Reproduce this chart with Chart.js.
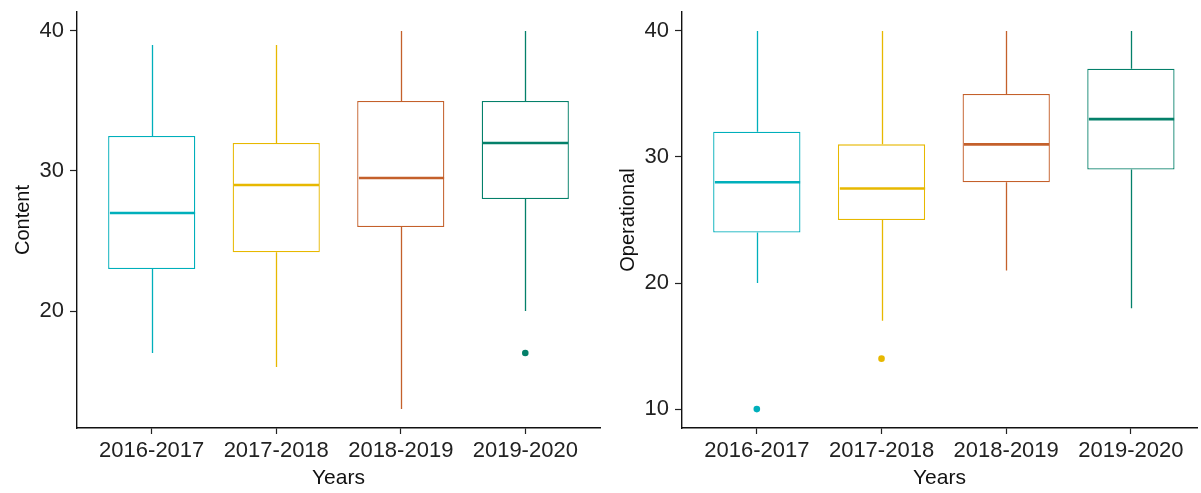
<!DOCTYPE html>
<html>
<head>
<meta charset="utf-8">
<script src="https://cdn.jsdelivr.net/npm/chart.js@4"></script>
<style>
  body { margin: 0; background: #fff; }
  #wrap { position: relative; width: 1201px; height: 493px; overflow: hidden; }
  .box { position: absolute; top: 0; height: 493px; }
</style>
</head>
<body>
<div id="wrap">
  <div class="box" style="left:0;width:604px"><canvas id="contentChart"></canvas></div>
  <div class="box" style="left:604px;width:597px"><canvas id="operationalChart"></canvas></div>
</div>
<script>
// categories
const years = ['2016-2017', '2017-2018', '2018-2019', '2019-2020'];

// Content scores
const contentMin = [17, 16, 13, 20];
const contentQ1 = [23, 24.2, 26, 28];
const contentMedian = [27, 29, 29.5, 32];
const contentQ3 = [32.5, 32, 35, 35];
const contentMax = [39, 39, 40, 40];
const contentOutlierYears = ['2019-2020'];
const contentOutlierValues = [17];
const contentTicks = [20, 30, 40];

// Operational scores
const operationalMin = [20, 17, 21, 18];
const operationalQ1 = [24, 25, 28, 29];
const operationalMedian = [28, 27.5, 31, 33];
const operationalQ3 = [32, 31, 35, 37];
const operationalMax = [40, 40, 40, 40];
const operationalOutlierYears = ['2016-2017', '2017-2018'];
const operationalOutlierValues = [10, 14];
const operationalTicks = [10, 20, 30, 40];

const colors = ['#00AFBB', '#E7B800', '#C4602B', '#04806A'];
const fontFamily = '"Liberation Sans", Arial, sans-serif';

function boxPlot(canvasId, stats, opts) {
    const xPos = years.map((y, i) => i + 1);

    // whiskers and medians, drawn from the chart's own scales
    const boxLines = {
        id: 'boxLines',
        afterDatasetsDraw(chart) {
            const ctx = chart.ctx;
            const x = chart.scales.x;
            const y = chart.scales.y;
            const half = (x.getPixelForValue(2) - x.getPixelForValue(1)) * 0.35;
            ctx.save();
            xPos.forEach((v, i) => {
                const px = Math.round(x.getPixelForValue(v)) + 0.5;
                ctx.strokeStyle = colors[i];
                ctx.lineWidth = 1.3;
                ctx.beginPath();
                ctx.moveTo(px, y.getPixelForValue(stats.q3[i]));
                ctx.lineTo(px, y.getPixelForValue(stats.max[i]));
                ctx.moveTo(px, y.getPixelForValue(stats.q1[i]));
                ctx.lineTo(px, y.getPixelForValue(stats.min[i]));
                ctx.stroke();
                ctx.lineWidth = 2.6;
                const my = y.getPixelForValue(stats.median[i]);
                ctx.beginPath();
                ctx.moveTo(px - half + 1, my);
                ctx.lineTo(px + half - 1, my);
                ctx.stroke();
            });
            ctx.restore();
        }
    };

    const ctx = document.getElementById(canvasId).getContext('2d');
    return new Chart(ctx, {
        type: 'bar',
        data: {
            datasets: [{
                type: 'bar',
                data: xPos.map((v, i) => ({ x: v, y: [stats.q1[i], stats.q3[i]] })),
                backgroundColor: '#ffffff',
                borderColor: colors,
                borderWidth: 1.3,
                borderSkipped: false,
                categoryPercentage: 1,
                barPercentage: 0.7
            }, {
                type: 'scatter',
                data: stats.outlierYears.map((yr, i) => ({ x: years.indexOf(yr) + 1, y: stats.outlierValues[i] })),
                pointRadius: 3.3,
                pointBorderWidth: 0,
                pointBackgroundColor: stats.outlierYears.map(yr => colors[years.indexOf(yr)]),
                pointBorderColor: stats.outlierYears.map(yr => colors[years.indexOf(yr)])
            }]
        },
        options: {
            responsive: true,
            maintainAspectRatio: false,
            animation: false,
            layout: { padding: { top: 12, right: opts.padRight, bottom: 0, left: 0 } },
            plugins: { legend: { display: false }, tooltip: { enabled: false } },
            scales: {
                x: {
                    type: 'linear',
                    min: 0.4,
                    max: opts.xMax,
                    offset: false,
                    afterBuildTicks: s => { s.ticks = xPos.map(v => ({ value: v })); },
                    afterFit: s => { s.height = 65; s.paddingLeft = 0; s.paddingRight = 0; },
                    grid: { offset: false, drawOnChartArea: false, drawTicks: true, tickLength: 6, tickColor: '#222', tickWidth: 1.2 },
                    border: { display: true, color: '#111', width: 1.4 },
                    ticks: {
                        padding: 4,
                        color: '#222',
                        font: { family: fontFamily, size: 22 },
                        maxRotation: 0,
                        autoSkip: false,
                        callback: v => years[v - 1]
                    },
                    title: {
                        display: true,
                        text: 'Years',
                        color: '#111',
                        font: { family: fontFamily, size: 21 },
                        padding: { top: 0, bottom: 2 }
                    }
                },
                y: {
                    min: opts.yMin,
                    max: opts.yMax,
                    afterBuildTicks: s => { s.ticks = opts.ticks.map(v => ({ value: v })); },
                    afterFit: s => { s.width = opts.axisWidth; s.paddingTop = 0; s.paddingBottom = 0; },
                    grid: { drawOnChartArea: false, drawTicks: true, tickLength: 7, tickColor: '#222', tickWidth: 1.2 },
                    border: { display: true, color: '#111', width: 1.4 },
                    ticks: {
                        padding: 6,
                        color: '#222',
                        font: { family: fontFamily, size: 22 }
                    },
                    title: {
                        display: true,
                        text: opts.title,
                        color: '#111',
                        font: { family: fontFamily, size: 20 },
                        padding: { top: opts.titlePad, bottom: 0 }
                    }
                }
            }
        },
        plugins: [boxLines]
    });
}

boxPlot('contentChart', {
    min: contentMin, q1: contentQ1, median: contentMedian, q3: contentQ3, max: contentMax,
    outlierYears: contentOutlierYears, outlierValues: contentOutlierValues
}, { title: 'Content', ticks: contentTicks, yMin: 11.65, yMax: 41.35, xMax: 4.6, padRight: 2, axisWidth: 77, titlePad: 11 });

// right panel is cut off at the image edge, like the original
boxPlot('operationalChart', {
    min: operationalMin, q1: operationalQ1, median: operationalMedian, q3: operationalQ3, max: operationalMax,
    outlierYears: operationalOutlierYears, outlierValues: operationalOutlierValues
}, { title: 'Operational', ticks: operationalTicks, yMin: 8.5, yMax: 41.5, xMax: 4.53, padRight: 0, axisWidth: 78, titlePad: 12 });
</script>
</body>
</html>
